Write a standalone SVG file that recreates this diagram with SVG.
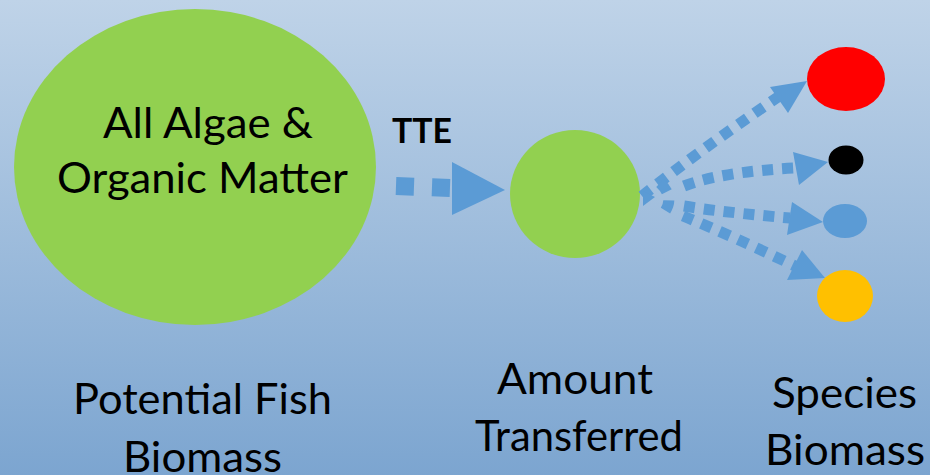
<svg xmlns="http://www.w3.org/2000/svg" width="930" height="475" viewBox="0 0 930 475">
<defs>
<linearGradient id="bg" x1="0" y1="0" x2="0" y2="1">
<stop offset="0" stop-color="#bfd3e8"/>
<stop offset="1" stop-color="#7ca5d0"/>
</linearGradient>
<style>
.lbl{font-family:Lato,"Open Sans","Liberation Sans",sans-serif;font-size:42px;fill:#000}
.fan{fill:none;stroke:#5b9bd5;stroke-width:11;stroke-dasharray:11 9}
.head{fill:#5b9bd5}
</style>
</defs>
<rect width="930" height="475" fill="url(#bg)"/>
<g id="algae">
<ellipse cx="195" cy="167" rx="181" ry="158" fill="#92d050"/>
<text class="lbl" x="103" y="138" textLength="210" lengthAdjust="spacingAndGlyphs">All Algae &amp;</text>
<text class="lbl" x="57" y="193" textLength="291" lengthAdjust="spacingAndGlyphs">Organic Matter</text>
</g>
<g id="transferred">
<ellipse cx="575" cy="194" rx="65" ry="64" fill="#92d050"/>
</g>
<g id="sp-red"><ellipse cx="846" cy="79" rx="39" ry="32" fill="#ff0000"/></g>
<g id="sp-black"><ellipse cx="846" cy="160" rx="17.5" ry="14.5" fill="#000"/></g>
<g id="sp-blue"><ellipse cx="845" cy="221" rx="22" ry="17" fill="#5b9bd5"/></g>
<g id="sp-yellow"><ellipse cx="845" cy="296" rx="28" ry="26" fill="#ffc000"/></g>
<g id="connectors">
<line x1="396" y1="186" x2="452" y2="188" stroke="#5b9bd5" stroke-width="18" stroke-dasharray="18 18"/>
<polygon class="head" points="452,162 505,190 452,215"/>
<text x="392" y="143" textLength="60" lengthAdjust="spacingAndGlyphs" style="font-family:Lato,'Liberation Sans',sans-serif;font-weight:bold;font-size:34px">TTE</text>
<path class="fan" d="M642,196 Q700,150 778,97"/>
<polygon class="head" points="770,87 807,81 788,113"/>
<path class="fan" d="M684,186 Q720,172 795,168"/>
<polygon class="head" points="793,152 828,162 799,185"/>
<path class="fan" d="M684,206 Q720,212 790,218"/>
<polygon class="head" points="792,202 823,222 787,235"/>
<path class="fan" d="M683,216 Q730,235 795,266"/>
<polygon class="head" points="802,250 825,278 787,280"/>
<path class="fan" d="M660,183 Q676,198 663,214"/>
<path d="M643,191 L655,197 L643,206 Z" class="head"/>
</g>
<g id="captions">
<text class="lbl" x="73" y="414" textLength="259" lengthAdjust="spacingAndGlyphs">Potential Fish</text>
<text class="lbl" x="123" y="472" textLength="159" lengthAdjust="spacingAndGlyphs">Biomass</text>
<text class="lbl" x="497" y="394" textLength="156" lengthAdjust="spacingAndGlyphs">Amount</text>
<text class="lbl" x="475" y="451" textLength="208" lengthAdjust="spacingAndGlyphs">Transferred</text>
<text class="lbl" x="772" y="408" textLength="145" lengthAdjust="spacingAndGlyphs">Species</text>
<text class="lbl" x="765" y="465" textLength="160" lengthAdjust="spacingAndGlyphs">Biomass</text>
</g>
</svg>
